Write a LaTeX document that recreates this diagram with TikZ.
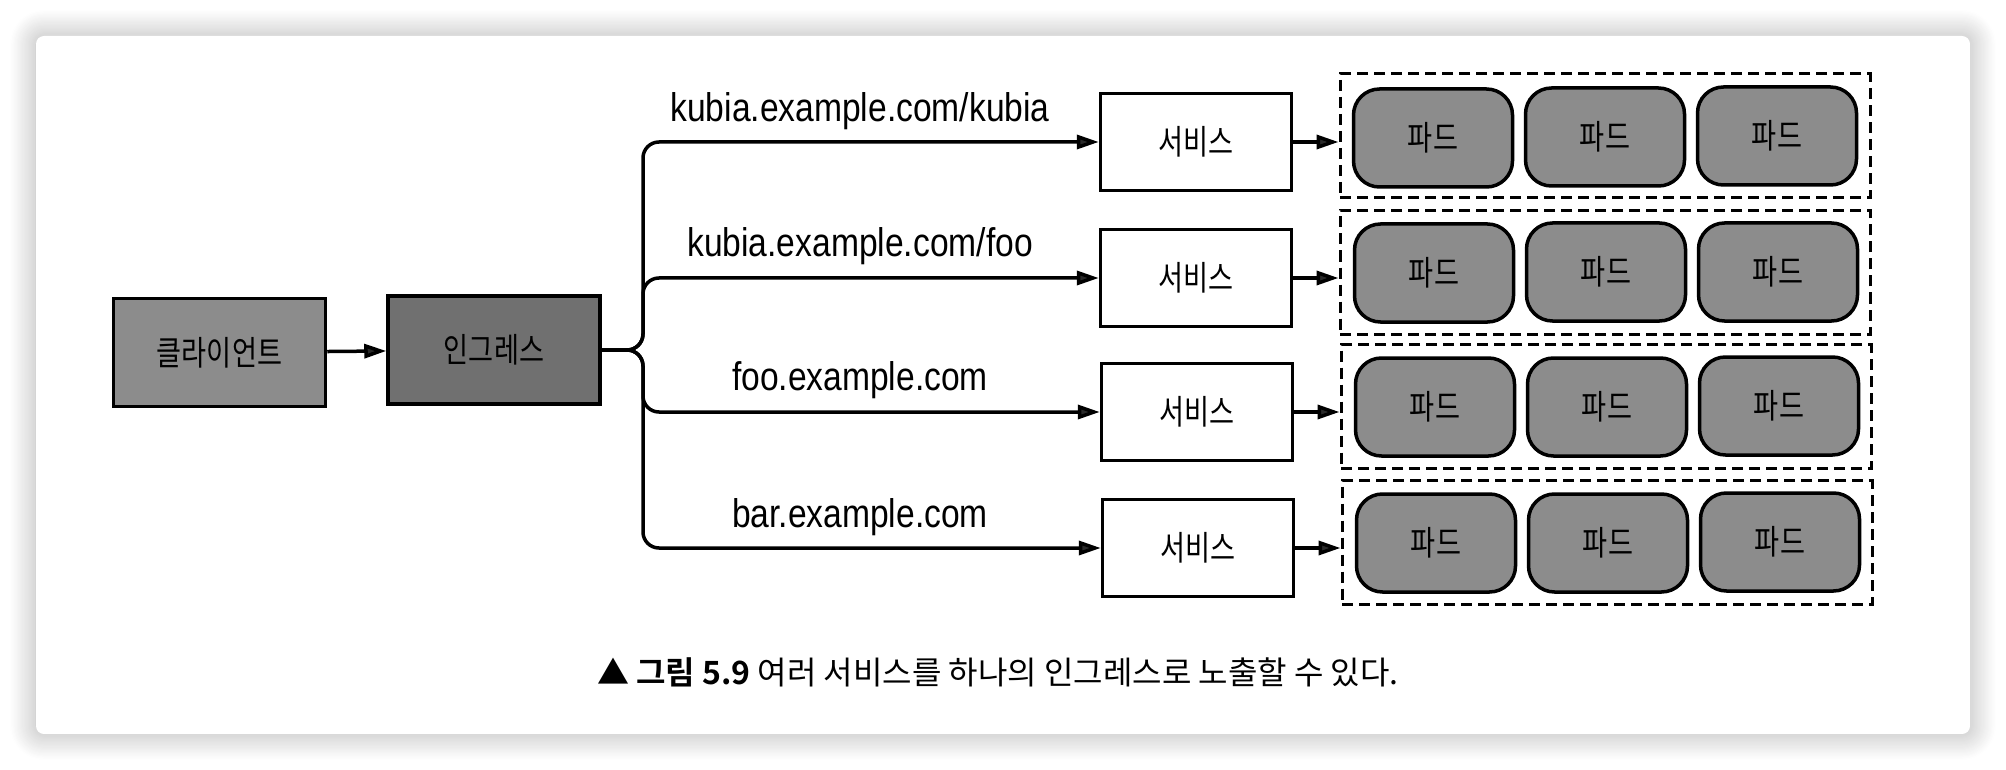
\documentclass[tikz,border=0pt]{standalone}
\usepackage{fontspec}
\setmainfont[FakeStretch=0.84]{Liberation Sans}
\newfontfamily\krc[FakeStretch=0.8]{Noto Sans CJK KR}
\newfontfamily\kr[BoldFont={Noto Sans CJK KR Bold}]{Noto Sans CJK KR}
\usetikzlibrary{arrows.meta,shadows.blur}

\begin{document}
\begin{tikzpicture}[x=1pt,y=-1pt,
        mainbox/.style={draw,line width=3.5pt,minimum width=212pt,minimum height=108pt,font=\krc\fontsize{34}{40}\selectfont},
        svcbox/.style={draw,line width=3.5pt,fill=white,minimum width=191pt,minimum height=97pt,font=\krc\fontsize{34}{40}\selectfont},
        podbox/.style={draw,line width=3.5pt,fill=black!45,rounded corners=26pt,minimum width=159pt,minimum height=98pt,font=\krc\fontsize{34}{40}\selectfont},
        podgroup/.style={draw,line width=3pt,dash pattern=on 11pt off 6pt,minimum width=530pt,minimum height=124pt},
        host/.style={font=\fontsize{40}{46}\selectfont},
        link/.style={line width=3.5pt,-{Triangle[length=22pt,width=14pt]}}]

        \useasboundingbox (0,0) rectangle (2006,770);
        \fill[white,rounded corners=8pt,blur shadow={shadow xshift=0pt,shadow yshift=0pt,shadow blur radius=26pt,shadow blur steps=24,shadow opacity=32}] (36,36) rectangle (1970,734);

        \node[mainbox,fill=black!45] (client) at (219.5,352.5) {클라이언트};
        \node[mainbox,fill=black!56] (ingress) at (494,350) {인그레스};
        \coordinate (fork) at (643,350);

        \node[svcbox] (svc1) at (1196,142) {서비스};
        \node[svcbox] (svc2) at (1196,278) {서비스};
        \node[svcbox] (svc3) at (1197,412) {서비스};
        \node[svcbox] (svc4) at (1198,548) {서비스};

        \node[host] (h1) at (860,111) {kubia.example.com/kubia};
        \node[host] (h2) at (860,246) {kubia.example.com/foo};
        \node[host] (h3) at (860,380) {foo.example.com};
        \node[host] (h4) at (860,517) {bar.example.com};

        \node[podgroup] (grp1) at (1605,136) {};
        \node[podgroup] (grp2) at (1605,272.5) {};
        \node[podgroup] (grp3) at (1606,406.5) {};
        \node[podgroup] (grp4) at (1607,542.5) {};

        \node[podbox] (pod11) at (1433,138) {파드};
        \node[podbox] (pod12) at (1605,137) {파드};
        \node[podbox] (pod13) at (1777,136) {파드};
        \node[podbox] (pod21) at (1434,273) {파드};
        \node[podbox] (pod22) at (1606,272) {파드};
        \node[podbox] (pod23) at (1778,272) {파드};
        \node[podbox] (pod31) at (1435,407) {파드};
        \node[podbox] (pod32) at (1607,407) {파드};
        \node[podbox] (pod33) at (1779,406) {파드};
        \node[podbox] (pod41) at (1436,543) {파드};
        \node[podbox] (pod42) at (1608,543) {파드};
        \node[podbox] (pod43) at (1780,542) {파드};

        \node[font=\kr\fontsize{32}{36}\selectfont] (cap) at (998,672) {▲ \textbf{그림 5.9} 여러 서비스를 하나의 인그레스로 노출할 수 있다.};

        \draw[link] (client) -- (ingress);
        \draw[link,rounded corners=16pt] (ingress.east) -- (fork) |- (svc1.west);
        \draw[link,rounded corners=16pt] (ingress.east) -- (fork) |- (svc2.west);
        \draw[link,rounded corners=16pt] (ingress.east) -- (fork) |- (svc3.west);
        \draw[link,rounded corners=16pt] (ingress.east) -- (fork) |- (svc4.west);
        \draw[link] (svc1) -- (svc1 -| grp1.west);
        \draw[link] (svc2) -- (svc2 -| grp2.west);
        \draw[link] (svc3) -- (svc3 -| grp3.west);
        \draw[link] (svc4) -- (svc4 -| grp4.west);

    \end{tikzpicture}
\end{document}
